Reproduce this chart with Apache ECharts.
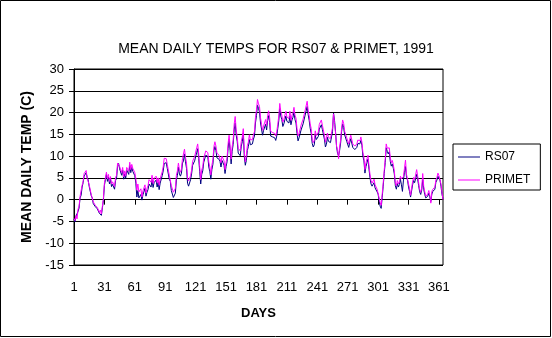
<!DOCTYPE html>
<html>
<head>
<meta charset="utf-8">
<script src="https://cdn.jsdelivr.net/npm/echarts@6/dist/echarts.min.js"></script>
<style>
  html, body { margin: 0; padding: 0; background: #ffffff; }
  #chart { width: 552px; height: 338px; }
</style>
</head>
<body>
<div id="chart"></div>
<script>
// Day-of-year numbers 1..365 used as categories
const days = [];
for (let d = 1; d <= 365; d++) days.push(String(d));

// Mean daily temperature (C) at RS07
const rs07 = [
  -4.5, -5.1, -3.8, -3.9, -2.7, -1.9, 0.4, 1.0, 2.9, 3.9,
  5.4, 5.2, 6.2, 5.1, 4.5, 3.0, 3.0, 0.9, 0.4, -0.9,
  -0.5, -1.6, -1.3, -2.1, -1.9, -3.1, -2.7, -3.6, -1.9, -0.2,
  3.3, 4.6, 5.8, 4.2, 5.2, 3.6, 4.7, 3.0, 3.5, 3.3,
  2.4, 4.4, 5.0, 7.7, 8.3, 7.1, 7.3, 5.6, 6.8, 4.7,
  5.9, 4.9, 6.8, 6.4, 5.8, 7.9, 6.2, 7.4, 6.5, 6.3,
  5.5, 3.8, 0.6, 2.1, 0.4, 0.5, 1.2, -0.1, 1.1, 1.4,
  2.6, 0.8, 1.7, 2.3, 3.6, 3.6, 2.9, 4.5, 2.8, 3.9,
  4.2, 4.5, 2.9, 4.0, 2.3, 3.8, 4.0, 5.5, 6.6, 8.3,
  8.6, 8.5, 7.2, 6.9, 4.7, 4.2, 2.1, 1.8, 0.5, 0.9,
  1.5, 4.5, 5.6, 7.5, 5.9, 5.4, 6.1, 8.4, 8.9, 10.5,
  8.7, 7.2, 3.8, 3.1, 3.2, 4.6, 5.9, 7.9, 7.6, 8.9,
  9.1, 10.8, 11.7, 9.5, 6.4, 3.6, 5.8, 6.6, 8.6, 8.6,
  10.2, 10.3, 9.9, 7.5, 6.4, 4.7, 6.9, 8.1, 11.2, 12.2,
  11.3, 9.6, 9.4, 9.3, 8.8, 7.5, 9.0, 8.8, 7.9, 6.0,
  7.6, 8.7, 11.8, 13.8, 11.3, 8.2, 11.1, 12.7, 16.0, 17.6,
  14.8, 13.4, 10.7, 10.4, 10.1, 12.3, 13.3, 15.2, 9.9, 7.9,
  9.0, 11.3, 12.2, 13.8, 12.6, 13.0, 12.8, 13.9, 14.6, 17.6,
  19.3, 21.7, 20.9, 20.1, 17.6, 16.2, 14.8, 15.9, 16.2, 17.3,
  16.0, 18.2, 19.3, 17.7, 14.6, 14.6, 14.4, 14.3, 14.2, 13.6,
  14.6, 16.3, 18.1, 20.9, 19.2, 18.4, 16.8, 17.4, 17.8, 19.2,
  18.0, 17.8, 17.6, 19.2, 17.2, 18.3, 18.9, 20.1, 18.4, 17.6,
  15.2, 13.5, 14.2, 14.1, 16.0, 16.2, 17.4, 17.7, 19.4, 19.6,
  21.4, 19.5, 18.2, 16.4, 15.2, 12.9, 12.1, 12.6, 14.8, 13.8,
  13.8, 14.5, 16.2, 16.3, 17.2, 16.1, 16.3, 13.9, 12.1, 12.7,
  14.3, 13.4, 13.3, 13.1, 14.4, 15.6, 19.9, 18.2, 15.6, 12.2,
  10.6, 10.1, 11.3, 13.0, 15.7, 17.4, 16.6, 14.9, 14.6, 13.4,
  13.3, 12.0, 13.1, 14.0, 13.6, 12.0, 11.9, 11.5, 11.5, 12.0,
  12.9, 13.1, 12.8, 13.6, 12.5, 10.0, 8.9, 6.1, 7.6, 8.5,
  9.3, 7.0, 5.0, 3.6, 3.1, 3.0, 3.9, 2.7, 2.5, 1.8,
  1.3, -0.3, -1.5, -2.0, 0.5, 3.1, 6.0, 8.5, 11.9, 11.1,
  10.5, 11.0, 8.8, 7.7, 8.2, 7.2, 5.9, 3.2, 2.4, 3.7,
  2.9, 3.5, 4.7, 3.4, 1.9, 4.5, 6.3, 7.6, 5.1, 4.5,
  2.9, 1.9, 0.6, 0.3, 3.4, 4.4, 3.9, 4.1, 5.8, 4.7,
  3.2, 1.8, 1.2, 2.2, 4.6, 2.4, 1.2, 0.4, 0.2, 0.8,
  1.5, 0.6, -0.4, 1.3, 1.9, 1.9, 2.4, 4.0, 4.5, 5.4,
  5.0, 4.5, 3.1, 1.2, 0.2
];

// Mean daily temperature (C) at PRIMET
const primet = [
  -4.3, -4.8, -3.6, -4.4, -2.2, -1.5, 0.8, 1.2, 3.3, 4.2,
  6.0, 5.6, 6.7, 4.9, 5.0, 3.4, 3.5, 1.2, 0.9, -0.5,
  -0.1, -1.3, -0.9, -1.8, -1.6, -2.9, -2.4, -3.3, -1.5, 0.3,
  3.8, 5.0, 6.3, 4.8, 5.8, 4.2, 5.3, 3.6, 4.1, 3.9,
  3.0, 5.1, 5.6, 8.4, 8.8, 7.6, 8.0, 6.2, 7.4, 5.2,
  6.6, 5.5, 7.4, 7.0, 6.5, 8.6, 6.9, 8.1, 7.2, 7.0,
  6.2, 4.9, 2.2, 3.6, 1.8, 1.9, 2.5, 0.6, 2.0, 2.3,
  3.4, 1.5, 2.6, 3.2, 4.6, 4.7, 4.0, 5.6, 3.7, 4.9,
  5.1, 5.4, 3.9, 5.0, 3.3, 4.8, 4.9, 6.4, 7.6, 9.5,
  9.8, 9.4, 8.1, 7.8, 5.6, 5.2, 3.2, 3.0, 1.7, 2.1,
  2.6, 5.6, 6.6, 8.4, 6.8, 6.3, 7.1, 9.4, 9.8, 11.6,
  9.7, 8.4, 5.0, 4.3, 4.2, 5.5, 6.8, 8.8, 8.6, 9.9,
  10.2, 11.9, 12.8, 10.6, 7.6, 4.6, 6.8, 7.6, 9.6, 9.6,
  11.2, 11.3, 10.8, 8.6, 7.5, 5.7, 7.9, 9.1, 12.2, 13.3,
  12.3, 10.7, 10.4, 10.2, 9.8, 8.5, 10.0, 9.7, 8.9, 6.9,
  8.6, 9.7, 12.9, 14.8, 12.3, 9.3, 12.2, 13.7, 17.3, 19.1,
  16.0, 14.4, 11.8, 11.4, 11.2, 13.4, 14.4, 16.3, 11.0, 8.7,
  10.0, 12.4, 13.2, 14.9, 13.7, 13.9, 13.8, 14.9, 15.6, 18.9,
  20.6, 23.0, 22.0, 21.4, 18.8, 17.3, 15.9, 16.9, 17.2, 18.4,
  17.0, 19.3, 20.4, 18.8, 15.7, 15.6, 15.4, 15.4, 15.2, 14.6,
  15.6, 17.3, 19.2, 22.1, 20.2, 19.4, 17.8, 18.4, 18.8, 20.3,
  19.0, 18.8, 18.6, 20.3, 18.2, 19.4, 19.9, 21.2, 19.4, 18.7,
  16.3, 14.6, 15.2, 15.2, 17.1, 17.2, 18.5, 18.7, 20.5, 20.7,
  22.6, 20.5, 19.3, 17.4, 16.3, 13.9, 13.1, 13.6, 15.8, 14.7,
  14.8, 15.5, 17.3, 17.3, 18.3, 17.1, 17.3, 14.8, 13.2, 13.6,
  15.3, 14.3, 14.3, 14.0, 15.3, 16.5, 19.7, 17.5, 15.3, 12.3,
  11.3, 9.4, 12.1, 13.7, 16.5, 18.3, 17.5, 15.7, 15.4, 14.2,
  14.1, 12.8, 13.9, 14.8, 14.4, 12.8, 12.7, 12.3, 12.3, 12.8,
  13.7, 13.8, 13.5, 14.4, 13.2, 10.8, 9.8, 6.9, 8.5, 9.4,
  10.2, 7.8, 5.8, 4.4, 3.8, 3.8, 4.7, 3.4, 3.2, 2.4,
  2.0, 0.4, -0.6, -1.3, 1.2, 3.8, 6.7, 9.3, 12.8, 11.8,
  11.4, 11.9, 9.7, 8.5, 9.0, 8.0, 6.6, 3.8, 3.2, 4.4,
  3.6, 4.1, 5.4, 4.8, 4.8, 5.3, 7.2, 9.1, 5.8, 5.4,
  3.6, 2.5, 1.0, 0.7, 4.1, 5.1, 4.6, 4.8, 6.9, 5.4,
  3.9, 2.3, 1.7, 2.7, 6.0, 3.0, 1.8, 0.8, 0.6, 1.3,
  2.1, 1.0, -0.8, 1.9, 2.4, 2.4, 2.9, 4.6, 5.1, 6.1,
  5.5, 5.1, 3.6, 1.6, 0.0
];

// Temperature axis range and step
const yMin = -15;
const yMax = 30;
const yStep = 5;

const FONT = "'Liberation Sans', Arial, sans-serif";

const chart = echarts.init(document.getElementById('chart'), null, { renderer: 'canvas' });

chart.setOption({
  backgroundColor: '#ffffff',
  animation: false,
  title: {
    text: 'MEAN DAILY TEMPS FOR RS07 & PRIMET, 1991',
    left: 'center',
    top: 37,
    textStyle: { fontFamily: FONT, fontSize: 14, fontWeight: 'normal', color: '#000' }
  },
  graphic: [{
    type: 'rect',
    shape: { x: 0.5, y: 0.5, width: 550, height: 336 },
    style: { fill: 'none', stroke: '#000', lineWidth: 1 },
    silent: true,
    z: 100
  }],
  legend: {
    orient: 'vertical',
    left: 453,
    top: 144,
    padding: [7, 10, 4, 5],
    itemWidth: 22,
    itemHeight: 1,
    itemGap: 11,
    icon: 'rect',
    borderColor: '#000',
    borderWidth: 1,
    backgroundColor: '#fff',
    textStyle: { fontFamily: FONT, fontSize: 12, color: '#000' },
    data: ['RS07', 'PRIMET']
  },
  grid: {
    left: 74,
    right: 109,
    top: 69,
    bottom: 73,
    show: true,
    borderColor: '#000',
    borderWidth: 1,
    backgroundColor: '#fff'
  },
  xAxis: {
    type: 'category',
    data: days,
    boundaryGap: false,
    name: 'DAYS',
    nameLocation: 'middle',
    nameGap: 42,
    nameTextStyle: { fontFamily: FONT, fontSize: 13, fontWeight: 'bold', color: '#000' },
    axisLine: { lineStyle: { color: '#000', width: 1 } },
    axisTick: { interval: 29, length: 5, lineStyle: { color: '#000' } },
    axisLabel: { interval: 29, margin: 16, fontFamily: FONT, fontSize: 13, color: '#000' },
    splitLine: { show: false }
  },
  yAxis: {
    type: 'value',
    min: yMin,
    max: yMax,
    interval: yStep,
    name: 'MEAN DAILY TEMP (C)',
    nameLocation: 'middle',
    nameGap: 37,
    nameTextStyle: { fontFamily: FONT, fontSize: 14, fontWeight: 'bold', color: '#000' },
    axisLine: { show: true, lineStyle: { color: '#000', width: 1 } },
    axisTick: { show: true, length: 5, lineStyle: { color: '#000' } },
    axisLabel: { margin: 10, fontFamily: FONT, fontSize: 13, color: '#000' },
    splitLine: { show: true, lineStyle: { color: '#000', width: 1 } }
  },
  series: [
    {
      name: 'RS07',
      type: 'line',
      data: rs07,
      symbol: 'none',
      lineStyle: { color: '#000080', width: 1 },
      itemStyle: { color: '#000080' }
    },
    {
      name: 'PRIMET',
      type: 'line',
      data: primet,
      symbol: 'none',
      lineStyle: { color: '#ff00ff', width: 1 },
      itemStyle: { color: '#ff00ff' }
    }
  ]
});
</script>
</body>
</html>
